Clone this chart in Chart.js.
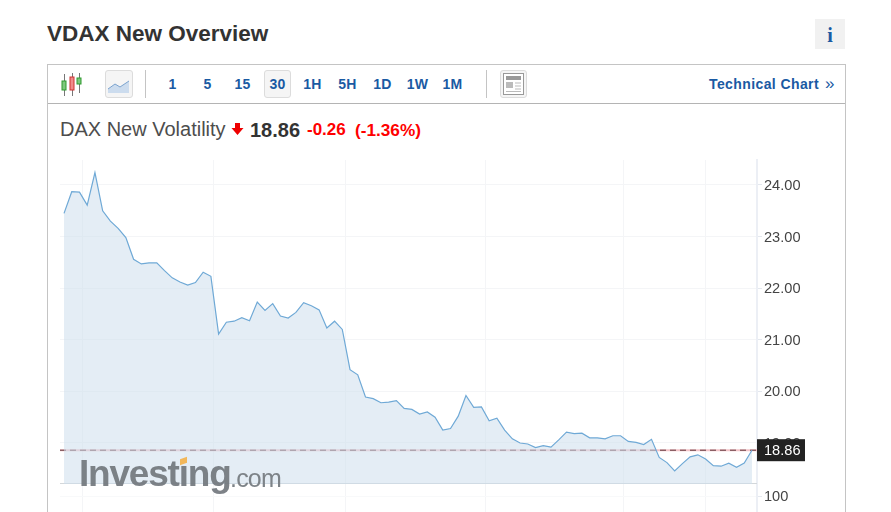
<!DOCTYPE html>
<html>
<head>
<meta charset="utf-8">
<title>VDAX New Overview</title>
<script src="https://cdn.jsdelivr.net/npm/chart.js@4"></script>
<style>
html, body { margin: 0; padding: 0; background: #fff; overflow: hidden; }
body { width: 891px; height: 512px; position: relative; font-family: "Liberation Sans", Arial, sans-serif; color: #333; }
.abs { position: absolute; white-space: nowrap; }
#chart { position: absolute; left: 0; top: 0; }
.panel { left: 47px; top: 64px; width: 797px; height: 460px; border: 1px solid #c4c4c4; box-sizing: content-box; }
.toolbar-line { left: 48px; top: 103px; width: 797px; height: 1px; background: #b4b4b4; }
.sep { top: 70px; width: 1px; height: 28px; background: #c4c4c4; }
.btn { top: 70px; height: 28px; line-height: 28px; width: 35px; text-align: center; font-weight: bold; font-size: 14px; letter-spacing: .2px; color: #1a5aa3; }
.boxed { box-sizing: border-box; border: 1px solid #dcdcdc; border-radius: 3px; background: #f5f5f5; }
.red { color: #f00; font-weight: bold; }
</style>
</head>
<body>
<div class="abs" style="left:47px;top:20px;font-size:22.5px;line-height:28px;font-weight:bold;color:#333">VDAX New Overview</div>
<div class="abs" style="left:815px;top:19px;width:30px;height:30px;background:#f1f1f1;text-align:center;font:bold 20px/32px 'Liberation Serif',serif;color:#1a5aa3">i</div>

<div class="abs panel"></div>
<div class="abs toolbar-line"></div>

<svg class="abs" style="left:60px;top:72px" width="24" height="24" viewBox="0 0 24 24">
  <path d="M4.5 2v22M12.5 1v23M19.5 1v20" stroke="#777" stroke-width="1"/>
  <rect x="2" y="9" width="4" height="9" fill="#7ec77e" stroke="#2f9a2f"/>
  <rect x="10" y="5" width="4" height="13" fill="#f08a8a" stroke="#c33"/>
  <rect x="17" y="6" width="4" height="6" fill="#7ec77e" stroke="#2f9a2f"/>
</svg>
<div class="abs boxed" style="left:105px;top:70px;width:28px;height:28px"></div>
<svg class="abs" style="left:107px;top:75px" width="24" height="20" viewBox="0 0 24 20">
  <path d="M1 14L8 9L13 12L22 6V18H1Z" fill="#ccdcee"/>
  <path d="M1 14L8 9L13 12L22 6" fill="none" stroke="#7ba3cf" stroke-width="1"/>
</svg>
<div class="abs sep" style="left:145px"></div>
<div class="abs btn" style="left:155px">1</div>
<div class="abs btn" style="left:190px">5</div>
<div class="abs btn" style="left:225px">15</div>
<div class="abs btn boxed" style="left:264px;width:27px;line-height:26px">30</div>
<div class="abs btn" style="left:295px">1H</div>
<div class="abs btn" style="left:330px">5H</div>
<div class="abs btn" style="left:365px">1D</div>
<div class="abs btn" style="left:400px">1W</div>
<div class="abs btn" style="left:435px">1M</div>
<div class="abs sep" style="left:486px"></div>
<div class="abs boxed" style="left:500px;top:70px;width:27px;height:28px"></div>
<svg class="abs" style="left:503px;top:73px" width="21" height="22" viewBox="0 0 21 22">
  <rect x="0.5" y="0.5" width="20" height="21" fill="#fff" stroke="#999"/>
  <rect x="3" y="3" width="15" height="4" fill="#999"/>
  <rect x="3" y="9" width="7" height="6" fill="#bbb"/>
  <path d="M12 10h6M12 13h6M12 16h6M3 18.5h15" stroke="#bbb"/>
</svg>
<div class="abs" style="left:709px;top:75px;font-size:14px;line-height:18px;font-weight:bold;letter-spacing:.4px;color:#1a5aa3">Technical Chart</div>
<div class="abs" style="left:825px;top:74px;font-size:17px;line-height:20px;color:#1a5aa3">»</div>

<div class="abs" style="left:60px;top:117px;font-size:20px;line-height:24px;color:#4d4d4d">DAX New Volatility</div>
<svg class="abs" style="left:231px;top:123px" width="13" height="12" viewBox="0 0 13 12"><path d="M4 0H9V5H12.5L6.5 12L0.5 5H4Z" fill="#e00"/></svg>
<div class="abs" style="left:250px;top:118px;font-size:20px;line-height:24px;font-weight:bold;color:#333">18.86</div>
<div class="abs red" style="left:307px;top:119px;font-size:17px;line-height:22px">-0.26</div>
<div class="abs red" style="left:355px;top:119px;font-size:17.2px;line-height:22px">(-1.36%)</div>

<canvas id="chart" width="891" height="512" style="width:891px;height:512px"></canvas>

<div class="abs" style="left:79px;top:451px;font-size:37px;line-height:46px;font-weight:bold;letter-spacing:-1.2px;color:#6f757b;opacity:.9;filter:blur(.6px)">Investing</div>
<div class="abs" style="left:180px;top:458px;width:7px;height:6px;background:#f2b75a;transform:skewY(-20deg)"></div>
<div class="abs" style="left:230px;top:460px;font-size:25px;line-height:36px;letter-spacing:-.8px;color:#7d8388;filter:blur(.4px)">.com</div>

<script>
// 30 minute closes, left to right
const prices = [
  23.45, 23.87, 23.86, 23.61, 24.24, 23.50, 23.30, 23.16, 22.98, 22.56,
  22.47, 22.49, 22.49, 22.34, 22.20, 22.12, 22.06, 22.11, 22.31, 22.23,
  21.11, 21.34, 21.36, 21.43, 21.37, 21.73, 21.57, 21.70, 21.46, 21.42,
  21.53, 21.72, 21.66, 21.58, 21.23, 21.36, 21.20, 20.42, 20.32, 19.89,
  19.86, 19.78, 19.79, 19.82, 19.67, 19.65, 19.56, 19.60, 19.50, 19.25,
  19.28, 19.52, 19.92, 19.69, 19.70, 19.43, 19.48, 19.25, 19.08, 19.00,
  18.98, 18.91, 18.95, 18.92, 19.06, 19.21, 19.18, 19.19, 19.10, 19.10,
  19.08, 19.14, 19.14, 19.03, 19.01, 18.97, 19.07, 18.72, 18.62, 18.46,
  18.60, 18.73, 18.77, 18.69, 18.56, 18.55, 18.61, 18.53, 18.61, 18.86
];
const priceTicks = [24, 23, 22, 21, 20, 19];
const volumeTicks = [100];
const sessionBreaks = [2.4, 19.4, 36.4, 54.5, 72.4, 83];
const lastPrice = 18.86;

const xMin = -0.52;
const xMax = 89.65;
const priceMin = 18.205;
const priceMax = 24.484;

// black price tag on the axis, same as the site has it
const lastPriceTag = {
  id: 'lastPriceTag',
  afterDraw(chart) {
    const { ctx, chartArea, scales } = chart;
    const y = scales.y.getPixelForValue(lastPrice);
    ctx.save();
    ctx.fillStyle = '#222';
    ctx.fillRect(chartArea.right, y - 11, 48, 22);
    ctx.fillStyle = '#fff';
    ctx.font = '14.6px "Liberation Sans", Arial, sans-serif';
    ctx.textBaseline = 'middle';
    ctx.fillText(lastPrice.toFixed(2), chartArea.right + 7, y + 0.5);
    ctx.restore();
  }
};

// fixed axis width, and no room kept for half a label above and below the panes
const fixAxis = (scale) => {
  scale.width = 134;
  scale.paddingTop = 0;
  scale.paddingBottom = 0;
};
const axisFont = { family: '"Liberation Sans", Arial, sans-serif', size: 14.6 };

new Chart(document.getElementById('chart'), {
  type: 'line',
  data: {
    datasets: [
      {
        data: prices.map((v, i) => ({ x: i, y: v })),
        yAxisID: 'y',
        borderColor: '#6fa9d6',
        borderWidth: 1.2,
        backgroundColor: 'rgba(205,222,236,0.55)',
        fill: 'start',
        pointRadius: 0,
        tension: 0
      },
      {
        data: [{ x: xMin, y: lastPrice }, { x: xMax, y: lastPrice }],
        yAxisID: 'y',
        borderColor: '#5e3238',
        borderWidth: 1,
        borderDash: [6, 4],
        pointRadius: 0
      },
      {
        data: [{ x: xMin, y: lastPrice }, { x: xMax, y: lastPrice }],
        yAxisID: 'y',
        borderColor: '#f3c4c8',
        borderWidth: 2,
        pointRadius: 0
      },
      {
        data: [{ x: xMin, y: priceMin }, { x: xMax, y: priceMin }],
        yAxisID: 'y',
        borderColor: '#d3d7da',
        borderWidth: 2,
        pointRadius: 0
      }
    ]
  },
  options: {
    responsive: false,
    animation: false,
    layout: { padding: { left: 60, top: 160, right: 0, bottom: 0 } },
    plugins: { legend: { display: false }, tooltip: { enabled: false } },
    scales: {
      x: {
        type: 'linear',
        min: xMin,
        max: xMax,
        afterBuildTicks: (s) => { s.ticks = sessionBreaks.map(v => ({ value: v })); },
        ticks: { display: false },
        border: { display: false },
        grid: { color: '#f4f5f7', drawTicks: false }
      },
      y: {
        position: 'right',
        stack: 'panes',
        stackWeight: 324,
        min: priceMin,
        max: priceMax,
        afterBuildTicks: (s) => { s.ticks = priceTicks.map(v => ({ value: v })); },
        afterFit: fixAxis,
        ticks: { color: '#444', font: axisFont, padding: 2, labelOffset: 1, callback: (v) => v.toFixed(2) },
        border: { color: '#eceff5', width: 2 },
        grid: { color: '#f4f5f7', tickColor: '#e4e8ef', tickLength: 5 }
      },
      volume: {
        position: 'right',
        stack: 'panes',
        stackWeight: 28,
        min: 20,
        max: 160,
        afterBuildTicks: (s) => { s.ticks = volumeTicks.map(v => ({ value: v })); },
        afterFit: fixAxis,
        ticks: { color: '#444', font: axisFont, padding: 2, labelOffset: 1 },
        border: { color: '#eceff5', width: 2 },
        grid: { color: '#f8f9fa', tickColor: '#e4e8ef', tickLength: 5 }
      }
    }
  },
  plugins: [lastPriceTag]
});
</script>
</body>
</html>
